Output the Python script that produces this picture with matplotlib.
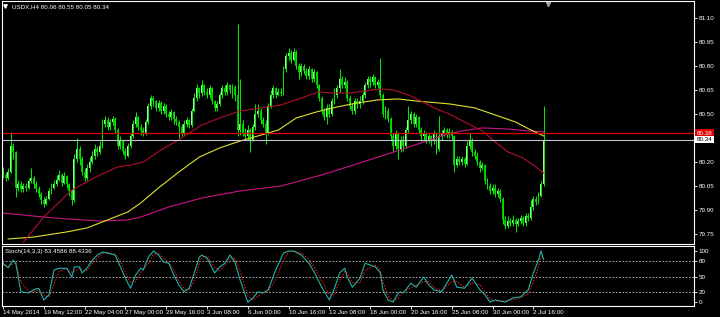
import numpy as np
import matplotlib.pyplot as plt
from matplotlib.transforms import blended_transform_factory

plt.rcParams['font.family'] = ['Liberation Sans', 'DejaVu Sans']

# USDX H4 candles, 14 May 2014 20:00 .. 3 Jul 2014 12:00
first_open = 80.14
close = [80.12, 80.10, 80.14, 80.30, 80.26, 80.04, 80.06, 80.03, 80.05, 80.04,
         80.08, 80.10, 80.06, 80.03, 80.00, 79.96, 79.94, 79.97, 80.02, 80.04,
         80.06, 80.09, 80.12, 80.07, 80.11, 80.06, 80.02, 79.96, 80.22, 80.28,
         80.22, 80.14, 80.10, 80.16, 80.20, 80.24, 80.28, 80.26, 80.30, 80.44,
         80.46, 80.42, 80.45, 80.47, 80.40, 80.30, 80.33, 80.27, 80.24, 80.30,
         80.36, 80.44, 80.48, 80.42, 80.40, 80.38, 80.45, 80.55, 80.60, 80.58,
         80.54, 80.57, 80.52, 80.55, 80.50, 80.48, 80.51, 80.47, 80.45, 80.42,
         80.38, 80.44, 80.46, 80.43, 80.52, 80.60, 80.66, 80.63, 80.68, 80.64,
         80.62, 80.66, 80.58, 80.54, 80.56, 80.62, 80.66, 80.64, 80.68, 80.65,
         80.67, 80.62, 80.40, 80.44, 80.38, 80.36, 80.40, 80.34, 80.42, 80.50,
         80.52, 80.46, 80.44, 80.38, 80.55, 80.62, 80.66, 80.62, 80.64, 80.63,
         80.78, 80.86, 80.88, 80.84, 80.89, 80.80, 80.76, 80.80, 80.77, 80.74,
         80.78, 80.72, 80.76, 80.68, 80.60, 80.52, 80.48, 80.54, 80.50, 80.58,
         80.62, 80.66, 80.72, 80.68, 80.70, 80.60, 80.55, 80.52, 80.58, 80.56,
         80.58, 80.62, 80.68, 80.72, 80.70, 80.73, 80.68, 80.70, 80.62, 80.50,
         80.52, 80.47, 80.36, 80.30, 80.38, 80.28, 80.34, 80.30, 80.40, 80.46,
         80.50, 80.44, 80.48, 80.40, 80.36, 80.38, 80.34, 80.36, 80.33, 80.38,
         80.28, 80.36, 80.38, 80.40, 80.37, 80.39, 80.36, 80.18, 80.22, 80.20,
         80.22, 80.19, 80.30, 80.34, 80.26, 80.24, 80.20, 80.16, 80.18, 80.08,
         80.05, 80.02, 80.04, 80.00, 80.02, 79.97, 79.84, 79.80, 79.83, 79.82,
         79.84, 79.81, 79.83, 79.85, 79.82, 79.86, 79.85, 79.92, 79.97, 79.95,
         79.99, 80.06, 80.34]
high = [80.17, 80.14, 80.16, 80.39, 80.32, 80.27, 80.09, 80.08, 80.07, 80.07,
        80.10, 80.16, 80.11, 80.08, 80.05, 80.01, 79.98, 79.99, 80.04, 80.07,
        80.09, 80.12, 80.15, 80.13, 80.14, 80.12, 80.07, 80.03, 80.25, 80.35,
        80.30, 80.24, 80.16, 80.19, 80.23, 80.27, 80.31, 80.30, 80.33, 80.47,
        80.49, 80.48, 80.47, 80.49, 80.48, 80.41, 80.36, 80.34, 80.29, 80.32,
        80.38, 80.46, 80.51, 80.49, 80.44, 80.42, 80.47, 80.57, 80.62, 80.61,
        80.59, 80.59, 80.58, 80.57, 80.56, 80.52, 80.53, 80.52, 80.49, 80.46,
        80.44, 80.46, 80.48, 80.47, 80.54, 80.63, 80.69, 80.67, 80.71, 80.69,
        80.66, 80.68, 80.67, 80.59, 80.58, 80.64, 80.68, 80.68, 80.70, 80.69,
        80.69, 80.68, 81.06, 80.72, 80.46, 80.41, 80.43, 80.41, 80.44, 80.56,
        80.56, 80.54, 80.48, 80.46, 80.57, 80.65, 80.68, 80.67, 80.66, 80.66,
        80.80, 80.88, 80.91, 80.90, 80.91, 80.90, 80.82, 80.82, 80.81, 80.79,
        80.80, 80.79, 80.78, 80.77, 80.69, 80.61, 80.54, 80.56, 80.56, 80.60,
        80.66, 80.68, 80.78, 80.74, 80.73, 80.71, 80.62, 80.57, 80.60, 80.60,
        80.61, 80.64, 80.70, 80.74, 80.74, 80.75, 80.74, 80.72, 80.85, 80.63,
        80.55, 80.54, 80.48, 80.38, 80.40, 80.39, 80.36, 80.37, 80.42, 80.55,
        80.52, 80.51, 80.50, 80.49, 80.42, 80.40, 80.39, 80.38, 80.37, 80.40,
        80.39, 80.49, 80.40, 80.42, 80.41, 80.41, 80.40, 80.37, 80.24, 80.24,
        80.24, 80.23, 80.33, 80.38, 80.35, 80.28, 80.26, 80.21, 80.20, 80.19,
        80.10, 80.07, 80.06, 80.06, 80.04, 80.03, 79.98, 79.86, 79.86, 79.85,
        79.87, 79.85, 79.85, 79.87, 79.86, 79.88, 79.88, 79.96, 79.99, 79.99,
        80.01, 80.08, 80.55]
low = [80.10, 80.08, 80.09, 80.13, 80.22, 79.98, 80.02, 80.01, 80.01, 80.02,
       80.03, 80.07, 80.04, 80.01, 79.98, 79.94, 79.92, 79.93, 79.96, 80.00,
       80.03, 80.05, 80.08, 80.05, 80.06, 80.04, 79.99, 79.93, 79.95, 80.20,
       80.18, 80.12, 80.08, 80.09, 80.14, 80.19, 80.22, 80.24, 80.25, 80.29,
       80.42, 80.40, 80.40, 80.43, 80.38, 80.28, 80.28, 80.25, 80.22, 80.23,
       80.29, 80.35, 80.42, 80.40, 80.37, 80.36, 80.37, 80.44, 80.53, 80.55,
       80.52, 80.52, 80.50, 80.50, 80.48, 80.46, 80.46, 80.44, 80.43, 80.35,
       80.36, 80.37, 80.42, 80.41, 80.42, 80.51, 80.58, 80.60, 80.61, 80.62,
       80.60, 80.60, 80.56, 80.52, 80.52, 80.55, 80.60, 80.62, 80.62, 80.63,
       80.60, 80.58, 80.36, 80.37, 80.36, 80.34, 80.34, 80.26, 80.33, 80.40,
       80.48, 80.44, 80.42, 80.31, 80.37, 80.54, 80.60, 80.60, 80.61, 80.61,
       80.62, 80.76, 80.84, 80.82, 80.83, 80.78, 80.72, 80.74, 80.75, 80.72,
       80.72, 80.70, 80.70, 80.66, 80.58, 80.50, 80.46, 80.44, 80.48, 80.49,
       80.56, 80.60, 80.64, 80.66, 80.66, 80.58, 80.53, 80.50, 80.50, 80.54,
       80.54, 80.56, 80.60, 80.66, 80.67, 80.68, 80.66, 80.66, 80.60, 80.48,
       80.47, 80.45, 80.33, 80.26, 80.28, 80.22, 80.26, 80.27, 80.29, 80.38,
       80.44, 80.42, 80.42, 80.38, 80.33, 80.34, 80.32, 80.32, 80.30, 80.31,
       80.25, 80.27, 80.34, 80.36, 80.35, 80.35, 80.34, 80.14, 80.17, 80.18,
       80.18, 80.17, 80.18, 80.28, 80.24, 80.22, 80.18, 80.14, 80.15, 80.06,
       80.03, 80.00, 80.00, 79.98, 79.98, 79.95, 79.81, 79.78, 79.79, 79.80,
       79.80, 79.76, 79.80, 79.81, 79.80, 79.80, 79.83, 79.84, 79.90, 79.93,
       79.94, 79.98, 80.05]

# moving averages, sampled along the chart (bar index, price)
ma_red_x = [8, 16, 27, 38, 45, 50, 55, 62, 70, 78, 85, 93, 101, 109, 117, 124,
            129, 136, 145, 149, 153, 159, 164, 169, 175, 181, 188, 193, 198, 204, 209, 212]
ma_red_y = [79.70, 79.856, 80.025, 80.119, 80.169, 80.181, 80.20, 80.275, 80.35, 80.431,
            80.475, 80.519, 80.537, 80.556, 80.60, 80.638, 80.631, 80.631, 80.65, 80.656,
            80.65, 80.619, 80.581, 80.538, 80.50, 80.45, 80.394, 80.325, 80.263, 80.225,
            80.169, 80.131]
ma_yel_x = [2, 12, 25, 33, 41, 49, 54, 61, 69, 77, 85, 93, 100, 108, 115, 123,
            131, 139, 147, 155, 162, 175, 185, 193, 201, 207, 212]
ma_yel_y = [79.719, 79.731, 79.763, 79.788, 79.838, 79.888, 79.944, 80.038, 80.138, 80.231,
            80.288, 80.331, 80.363, 80.40, 80.475, 80.513, 80.544, 80.569, 80.588, 80.594,
            80.581, 80.563, 80.538, 80.494, 80.45, 80.40, 80.363]
ma_mag_x = [0, 16, 25, 38, 49, 54, 65, 78, 93, 109, 125, 140, 152, 164, 172, 180,
            188, 198, 206, 212]
ma_mag_y = [79.881, 79.856, 79.844, 79.831, 79.838, 79.856, 79.919, 79.975, 80.019, 80.05,
            80.119, 80.194, 80.256, 80.319, 80.363, 80.394, 80.413, 80.406, 80.394, 80.388]

# Stochastic(14,3,3)
st_x = [0, 2, 4, 5, 7, 10, 12, 14, 16, 18, 20, 22, 25, 27, 28, 30, 31, 33, 35, 37,
        39, 41, 44, 46, 48, 50, 52, 54, 55, 57, 59, 61, 63, 65, 67, 69, 71, 73, 75, 77,
        78, 80, 83, 85, 87, 89, 91, 93, 96, 98, 100, 102, 104, 107, 110, 112, 114, 117, 120, 122,
        125, 128, 130, 132, 134, 135, 137, 140, 142, 146, 148, 149, 151, 153, 155, 156, 157, 160, 162, 165,
        167, 169, 172, 176, 178, 181, 184, 187, 189, 191, 193, 197, 200, 203, 206, 208, 210, 211, 212]
st_k = [76, 67, 82, 76, 20, 18, 24, 27, 4, 14, 63, 66, 66, 49, 69, 69, 57, 67, 82, 92,
        98, 96, 92, 69, 47, 27, 53, 66, 63, 88, 100, 92, 78, 76, 53, 33, 20, 27, 57, 88,
        92, 86, 57, 69, 76, 92, 78, 43, 0, 8, 20, 18, 24, 63, 96, 100, 100, 92, 76, 59,
        29, 4, 27, 57, 66, 49, 29, 47, 76, 69, 57, 24, 4, 0, 18, 20, 18, 37, 29, 49,
        33, 24, 20, 53, 29, 27, 47, 24, 14, 0, 4, 0, 8, 10, 24, 57, 82, 100, 83.4586]
st_d = [72, 70, 75, 78, 40, 20, 20, 24, 14, 10, 35, 60, 66, 58, 60, 66, 63, 62, 75, 86,
        95, 97, 94, 80, 58, 38, 40, 58, 63, 75, 94, 96, 85, 77, 64, 42, 26, 23, 42, 75,
        88, 90, 68, 62, 72, 86, 86, 60, 12, 4, 12, 18, 20, 45, 82, 98, 100, 96, 84, 68,
        42, 14, 14, 42, 60, 56, 38, 38, 62, 72, 62, 40, 12, 3, 8, 16, 19, 28, 33, 40,
        40, 28, 22, 40, 40, 28, 38, 34, 20, 6, 2, 2, 4, 8, 16, 40, 68, 88, 88.4336]

time_labels = ["14 May 2014", "19 May 12:00", "22 May 04:00", "27 May 00:00", "29 May 16:00",
               "3 Jun 08:00", "6 Jun 00:00", "10 Jun 16:00", "13 Jun 08:00", "18 Jun 00:00",
               "20 Jun 16:00", "25 Jun 08:00", "30 Jun 00:00", "2 Jul 16:00"]
time_pos = list(range(0, 16 * len(time_labels), 16))
price_ticks = [81.10, 80.95, 80.80, 80.65, 80.50, 80.20, 80.05, 79.90, 79.75]
level_red = 80.38
level_bid = 80.34

W, H = 720, 317
FS = 4.5
fig = plt.figure(figsize=(W / 100, H / 100), dpi=100, facecolor='black')


def rect(x0, y0, x1, y1):
    return [x0 / W, 1 - y1 / H, (x1 - x0) / W, (y1 - y0) / H]


ax = fig.add_axes(rect(2, 1, 694, 244), facecolor='black')
ax2 = fig.add_axes(rect(2, 246, 694, 306), facecolor='black', sharex=ax)

for a in (ax, ax2):
    for s in a.spines.values():
        s.set_color('white')
        s.set_linewidth(0.8)
    a.yaxis.tick_right()
    a.tick_params(axis='y', colors='white', labelsize=FS, length=2, width=0.6, pad=1.2)

# candles
idx = np.arange(len(close))
c = np.array(close)
o = np.array([first_open] + close[:-1])
up = c >= o
ax.vlines(idx, low, high, colors='#00e600', lw=0.75)
body_lo = np.minimum(o, c)
body_h = np.maximum(np.abs(c - o), 0.004)
ax.bar(idx[up], body_h[up], bottom=body_lo[up], width=0.75, color='#a4f7a4', linewidth=0)
ax.bar(idx[~up], body_h[~up], bottom=body_lo[~up], width=0.75, color='#00bb00', linewidth=0)

ax.plot(ma_mag_x, ma_mag_y, color='#c71585', lw=0.8)
ax.plot(ma_yel_x, ma_yel_y, color='#e0e030', lw=0.8)
ax.plot(ma_red_x, ma_red_y, color='#b0102a', lw=0.8)

ax.axhline(level_red, color='#e00000', lw=0.9)
ax.axhline(level_bid, color='#c0c4d4', lw=0.8)

ax.set_xlim(-0.4, 271.0)
ax.set_ylim(79.6875, 81.206)
ax.set_yticks(price_ticks)
ax.set_yticklabels([f"{v:.2f}" for v in price_ticks])
ax.tick_params(axis='x', bottom=False, labelbottom=False)

tr = blended_transform_factory(ax.transAxes, ax.transData)
ax.text(1.004, level_red, f"{level_red:.2f}", transform=tr, ha='left', va='center',
        fontsize=FS, color='white', bbox=dict(facecolor='#e00000', edgecolor='none', pad=1.0))
ax.text(1.004, level_bid, f"{level_bid:.2f}", transform=tr, ha='left', va='center',
        fontsize=FS, color='black', bbox=dict(facecolor='white', edgecolor='none', pad=1.0))

trx = blended_transform_factory(ax.transData, ax.transAxes)
ax.plot([213.7], [0.988], marker='v', ms=3, color='#a0a0a0', transform=trx, clip_on=False)
ax.plot([0.9], [0.978], marker='v', ms=2.5, color='white', transform=trx, clip_on=False)
fig.text(12 / W, 1 - 6.5 / H, "USDX,H4 80.06 80.55 80.05 80.34", fontsize=FS,
         color='white', va='center', ha='left')

# stochastic panel
for lv in (20, 50, 80):
    ax2.axhline(lv, color='#c8c8c8', lw=0.6, ls=(0, (2, 2)))
ax2.plot(st_x, st_d, color='#ff2020', lw=0.7, ls=(0, (1.5, 1.5)))
ax2.plot(st_x, st_k, color='#20b2aa', lw=0.8)
ax2.set_ylim(-7.8, 109.8)
ax2.set_yticks([0, 20, 50, 80, 100])
ax2.set_yticklabels(["0", "20", "50", "80", "100"])
ax2.set_xticks(time_pos)
ax2.set_xticklabels(time_labels, ha='left')
ax2.tick_params(axis='x', colors='white', labelsize=FS, length=2, width=0.6, pad=1.0)
ax2.text(0.004, 0.915, "Stoch(14,3,3) 83.4586 88.4336", transform=ax2.transAxes,
         fontsize=FS, color='white', va='center', ha='left')

fig.savefig("out.png", dpi=100, facecolor='black')
